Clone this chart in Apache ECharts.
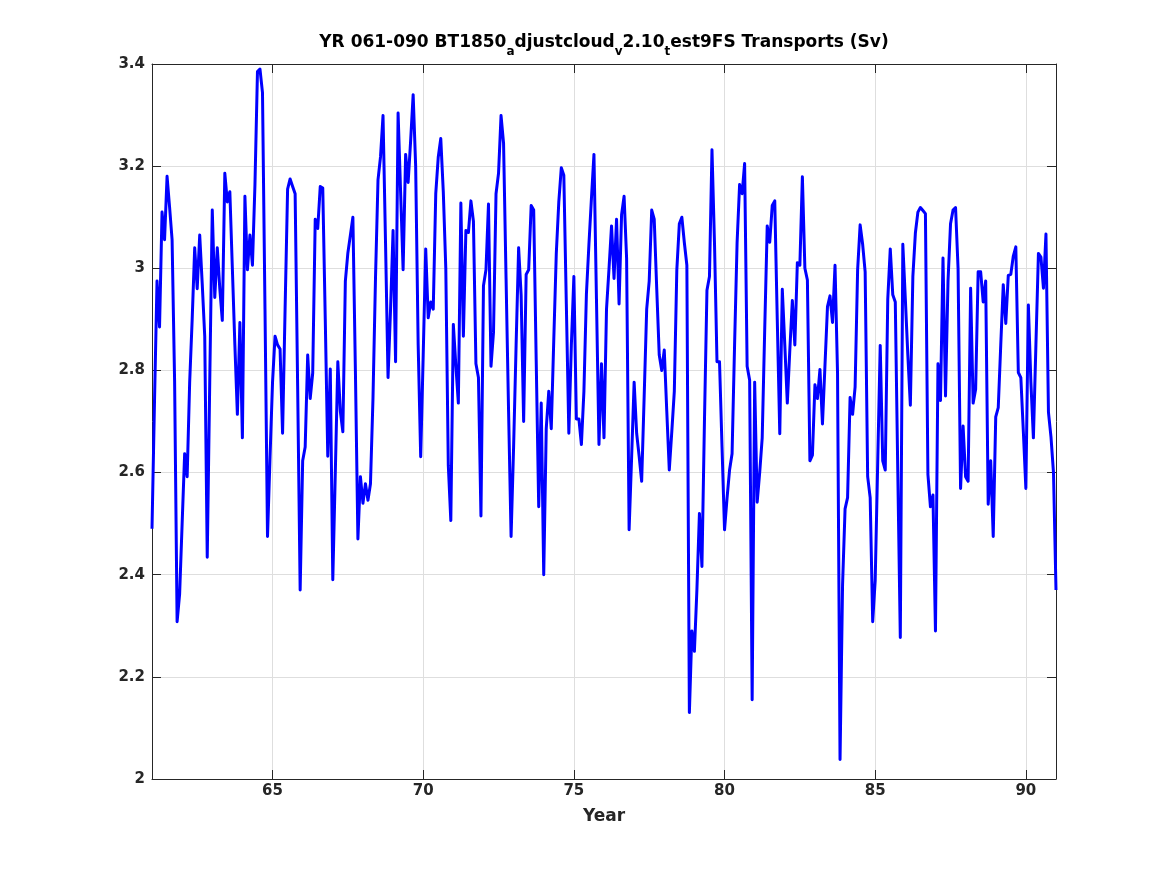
<!DOCTYPE html>
<html><head><meta charset="utf-8">
<script src="https://cdn.jsdelivr.net/npm/echarts@6/dist/echarts.min.js"></script>
<style>html,body{margin:0;padding:0;background:#fff}#c{width:1167px;height:875px}</style>
</head><body><div id="c"></div>
<script>
// Monthly transports (Sv), starting at year 61.0, one value per month
const startYear = 61;
const transports = [
  2.49,2.74,2.975,2.885,3.11,3.056,3.18,3.12,3.056,2.78,2.308,2.362,
  2.50,2.637,2.592,2.777,2.90,3.04,2.96,3.065,2.97,2.867,2.434,2.78,
  3.114,2.943,3.04,2.96,2.898,3.186,3.13,3.15,3.0,2.85,2.714,2.894,
  2.668,3.141,2.997,3.065,3.006,3.164,3.385,3.39,3.344,2.92,2.475,2.63,
  2.777,2.867,2.85,2.842,2.677,2.92,3.155,3.175,3.16,3.146,2.77,2.37,
  2.623,2.65,2.83,2.745,2.795,3.096,3.078,3.16,3.157,2.9,2.632,2.803,
  2.39,2.6,2.817,2.72,2.68,2.975,3.03,3.065,3.1,2.8,2.47,2.592,
  2.54,2.578,2.546,2.578,2.745,2.98,3.173,3.218,3.299,3.05,2.786,2.92,
  3.074,2.817,3.304,3.15,2.997,3.223,3.168,3.25,3.34,3.2,2.85,2.631,
  2.83,3.038,2.903,2.934,2.92,3.146,3.218,3.254,3.15,3.0,2.614,2.506,
  2.89,2.81,2.736,3.128,2.867,3.074,3.07,3.132,3.092,2.813,2.786,2.515,
  2.966,2.997,3.126,2.808,2.875,3.146,3.186,3.299,3.245,2.98,2.72,2.475,
  2.65,2.85,3.04,2.948,2.7,2.988,2.997,3.123,3.114,2.82,2.533,2.736,
  2.40,2.686,2.759,2.686,2.86,3.029,3.13,3.197,3.182,2.93,2.677,2.85,
  2.984,2.705,2.705,2.655,2.759,2.95,3.047,3.137,3.223,2.94,2.655,2.813,
  2.668,2.92,3.0,3.083,2.98,3.096,2.93,3.105,3.141,3.02,2.488,2.63,
  2.777,2.677,2.632,2.583,2.75,2.92,2.975,3.114,3.096,2.96,2.83,2.8,
  2.84,2.72,2.605,2.68,2.759,2.997,3.087,3.1,3.05,3.006,2.13,2.29,
  2.25,2.371,2.52,2.416,2.7,2.957,2.984,3.232,3.05,2.817,2.817,2.65,
  2.488,2.55,2.605,2.637,2.85,3.05,3.164,3.146,3.205,2.808,2.781,2.155,
  2.777,2.542,2.6,2.668,2.88,3.083,3.051,3.123,3.132,2.9,2.676,2.959,
  2.85,2.736,2.84,2.937,2.85,3.011,3.006,3.179,3.0,2.977,2.623,2.634,
  2.772,2.745,2.802,2.695,2.81,2.925,2.946,2.894,3.006,2.795,2.038,2.38,
  2.529,2.551,2.747,2.714,2.768,2.997,3.085,3.047,2.993,2.592,2.551,2.308,
  2.389,2.62,2.849,2.623,2.605,2.939,3.038,2.948,2.934,2.6,2.277,3.047,
  2.94,2.83,2.732,2.984,3.069,3.11,3.119,3.113,3.107,2.596,2.533,2.556,
  2.29,2.813,2.741,3.02,2.75,2.975,3.087,3.114,3.119,3.0,2.569,2.691,
  2.592,2.583,2.961,2.736,2.763,2.993,2.993,2.934,2.975,2.538,2.623,2.475,
  2.709,2.727,2.85,2.968,2.892,2.986,2.988,3.024,3.042,2.796,2.786,2.68,
  2.569,2.928,2.777,2.668,2.85,3.029,3.022,2.961,3.067,2.718,2.67,2.6,
  2.37
];
const xTicks = [65, 70, 75, 80, 85, 90];
const xRange = [61, 91];
const yRange = [2, 3.4];
const yStep = 0.2;

const data = transports.map((v, i) => [startYear + i / 12, v]);

const FONT = 'DejaVu Sans';
const INK = '#262626';
const GRID = '#dedede';

const chart = echarts.init(document.getElementById('c'), null, {renderer: 'canvas'});
chart.setOption({
  animation: false,
  backgroundColor: '#fff',
  grid: {left: 152, right: 111, top: 64, bottom: 96, containLabel: false},
  graphic: [{
    type: 'text',
    x: 604, y: 34,
    style: {
      text: '{n|YR 061-090 BT1850}{s|a}{n|djustcloud}{s|v}{n|2.10}{s|t}{n|est9FS Transports (Sv)}',
      align: 'center', verticalAlign: 'top',
      fill: '#000',
      rich: {
        n: {fontSize: 17, fontWeight: 'bold', fontFamily: FONT, lineHeight: 20, verticalAlign: 'top', fill: '#000'},
        s: {fontSize: 12, fontWeight: 'bold', fontFamily: FONT, lineHeight: 24, verticalAlign: 'bottom', fill: '#000'}
      }
    }
  }],
  xAxis: [{
    type: 'value', min: xRange[0], max: xRange[1], position: 'bottom',
    axisLine: {show: true, onZero: false, lineStyle: {color: INK, width: 1}},
    axisTick: {show: true, inside: true, length: 9, customValues: xTicks, lineStyle: {color: INK}},
    axisLabel: {customValues: xTicks, color: INK, fontSize: 15, fontWeight: 'bold', fontFamily: FONT, margin: 5},
    splitLine: {show: true, lineStyle: {color: GRID, width: 1}},
    name: 'Year', nameLocation: 'middle', nameGap: 29,
    nameTextStyle: {color: INK, fontSize: 17, fontWeight: 'bold', fontFamily: FONT}
  }, {
    type: 'value', min: xRange[0], max: xRange[1], position: 'top',
    axisLine: {show: true, onZero: false, lineStyle: {color: INK, width: 1}},
    axisTick: {show: true, inside: true, length: 9, customValues: xTicks, lineStyle: {color: INK}},
    axisLabel: {show: false},
    splitLine: {show: false}
  }],
  yAxis: [{
    type: 'value', min: yRange[0], max: yRange[1], interval: yStep, position: 'left',
    axisLine: {show: true, onZero: false, lineStyle: {color: INK, width: 1}},
    axisTick: {show: true, inside: true, length: 9, lineStyle: {color: INK}},
    axisLabel: {color: INK, fontSize: 15, fontWeight: 'bold', fontFamily: FONT, margin: 7},
    splitLine: {show: true, lineStyle: {color: GRID, width: 1}}
  }, {
    type: 'value', min: yRange[0], max: yRange[1], interval: yStep, position: 'right',
    axisLine: {show: true, onZero: false, lineStyle: {color: INK, width: 1}},
    axisTick: {show: true, inside: true, length: 9, lineStyle: {color: INK}},
    axisLabel: {show: false},
    splitLine: {show: false}
  }],
  series: [{
    type: 'line', data: data, xAxisIndex: 0, yAxisIndex: 0,
    showSymbol: false, symbol: 'none', clip: true,
    lineStyle: {color: '#0000ff', width: 3, join: 'round'},
    itemStyle: {color: '#0000ff'}
  }]
});
</script>
</body></html>
